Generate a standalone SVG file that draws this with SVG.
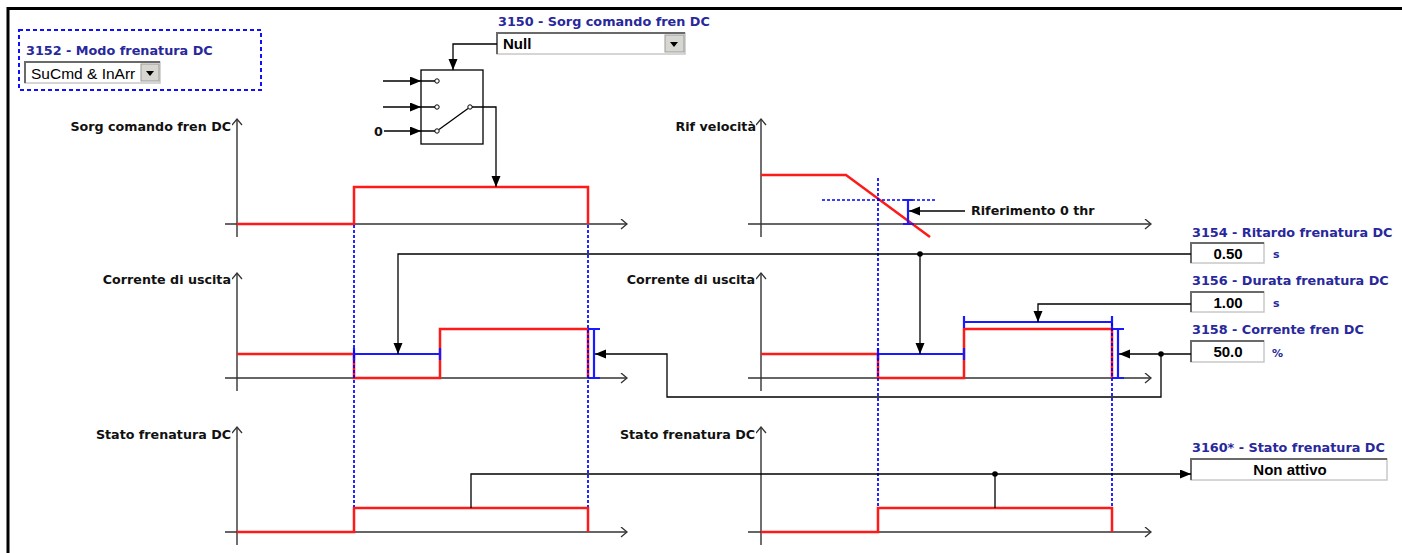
<svg xmlns="http://www.w3.org/2000/svg" width="1402" height="553" viewBox="0 0 1402 553">
<style>
.lbl{font-family:"DejaVu Sans",Verdana,sans-serif;font-weight:bold;font-size:12.7px;fill:#111}
.ttl{font-family:"DejaVu Sans",Verdana,sans-serif;font-weight:bold;font-size:12.8px;fill:#28289c}
.val{font-family:"Liberation Sans",Arial,sans-serif;font-weight:bold;font-size:15px;fill:#000}
.unit{font-family:"DejaVu Sans",Verdana,sans-serif;font-weight:bold;font-size:11px;fill:#28289c}
.ax{stroke:#333;stroke-width:1.4;fill:none}
.axa{stroke:#333;stroke-width:1.4;fill:none;marker-end:url(#chev)}
.red{stroke:#ff1a1a;stroke-width:2.5;fill:none;stroke-linejoin:miter}
.blu{stroke:#1a1aff;stroke-width:2.2;fill:none}
.dash{stroke:#0000ff;stroke-width:1.7;fill:none;stroke-dasharray:3 2}
.con{stroke:#000;stroke-width:1.3;fill:none}
.arr{marker-end:url(#arr)}
.dot{fill:#000}
.pin{fill:#fff;stroke:#000;stroke-width:1}
.box{fill:#fff;stroke:#c8c8c8;stroke-width:1.5}
.bdk{stroke:#6a6a6a;stroke-width:2;fill:none}
.btn{fill:#d8d6d0;stroke:#9a9a9a;stroke-width:1}
</style>
<defs>
<marker id="arr" markerUnits="userSpaceOnUse" markerWidth="12" markerHeight="10" refX="11" refY="4.5" orient="auto">
<path d="M0,0 L11,4.5 L0,9 z" fill="#000"/>
</marker>
<marker id="chev" markerUnits="userSpaceOnUse" markerWidth="10" markerHeight="12" refX="7" refY="5" orient="auto">
<path d="M1,0 L7,5 L1,10" fill="none" stroke="#333" stroke-width="1.3"/>
</marker>
</defs>

<rect x="0" y="0" width="1402" height="553" fill="#fff"/>
<path d="M8,553 V8.5 H1402" fill="none" stroke="#000" stroke-width="3"/>

<!-- 3152 parameter -->
<g id="p3152">
<rect x="19" y="30" width="242" height="60" fill="none" stroke="#1010ff" stroke-width="2" stroke-dasharray="4 3"/>
<text class="ttl" x="26" y="55">3152 - Modo frenatura DC</text>
<rect class="box" x="25" y="62" width="135" height="21"/>
<path class="bdk" d="M25,83 V62 H160"/>
<rect class="btn" x="141" y="64" width="18" height="17"/>
<path d="M146,71 H154 L150,76 z" fill="#000"/>
<text class="val" x="31" y="79" font-weight="normal" style="font-weight:normal;font-size:15.5px">SuCmd &amp; InArr</text>
</g>

<!-- 3150 parameter -->
<g id="p3150">
<text class="ttl" x="498" y="26">3150 - Sorg comando fren DC</text>
<rect class="box" x="497" y="33" width="188" height="21"/>
<path class="bdk" d="M497,54 V33 H685"/>
<rect class="btn" x="665" y="35" width="19" height="17"/>
<path d="M670,42 H678 L674,47 z" fill="#000"/>
<text class="val" x="503" y="49">Null</text>
</g>

<!-- switch -->
<g id="switch">
<rect x="421" y="70" width="62" height="74" fill="#fff" stroke="#000" stroke-width="1.3"/>
<path class="con" d="M421,81 H435 M421,107 H435 M421,131 H435 M472,107 H483"/>
<path class="con" d="M439,129.5 L468,108.5"/>
<circle class="pin" cx="437" cy="81" r="2.2"/>
<circle class="pin" cx="437" cy="107" r="2.2"/>
<circle class="pin" cx="437" cy="131" r="2.2"/>
<circle class="pin" cx="470" cy="107" r="2.2"/>
<text class="lbl" x="374" y="136">0</text>
</g>

<!-- graph 1 -->
<g id="g1">
<text class="lbl" x="231" y="131" text-anchor="end">Sorg comando fren DC</text>
<path class="axa" d="M237,237 V119"/>
<path class="axa" d="M225,224 H627"/>
<path class="red" d="M237,224 H354 V187 H588 V224"/>
</g>

<!-- graph 2 -->
<g id="g2">
<text class="lbl" x="756" y="131" text-anchor="end">Rif velocità</text>
<path class="axa" d="M761,237 V119"/>
<path class="axa" d="M748,224 H1151"/>
<path class="red" d="M761,175 H846 L930,237"/>
<path class="dash" d="M822,200 H937"/>
<path class="blu" d="M908,200 V224 M903,200 H913 M903,224 H914"/>
<text class="lbl" x="971" y="215">Riferimento 0 thr</text>
</g>

<!-- graph 3 -->
<g id="g3">
<text class="lbl" x="231" y="284" text-anchor="end">Corrente di uscita</text>
<path class="axa" d="M237,391 V273"/>
<path class="axa" d="M225,378 H627"/>
<path class="red" d="M237,354 H354 V378 H440 V329 H588 V378"/>
<path class="blu" d="M354,354 H440 M354,348 V360 M440,348 V360"/>
<path class="blu" d="M594,329 V378 M588,329 H600 M588,378 H600"/>
</g>

<!-- graph 4 -->
<g id="g4">
<text class="lbl" x="755" y="284" text-anchor="end">Corrente di uscita</text>
<path class="axa" d="M761,391 V273"/>
<path class="axa" d="M748,378 H1151"/>
<path class="red" d="M761,354 H878 V378 H964 V329 H1112 V378"/>
<path class="blu" d="M878,354 H964 M878,348 V360 M964,348 V360"/>
<path class="blu" d="M964,322 H1112 M964,316 V328 M1112,316 V328"/>
<path class="blu" d="M1118,329 V378 M1112,329 H1124 M1112,378 H1124"/>
</g>

<!-- graph 5 -->
<g id="g5">
<text class="lbl" x="231" y="439" text-anchor="end">Stato frenatura DC</text>
<path class="axa" d="M237,545 V427"/>
<path class="axa" d="M225,532 H627"/>
<path class="red" d="M237,532 H354 V508 H588 V532"/>
</g>

<!-- graph 6 -->
<g id="g6">
<text class="lbl" x="755" y="439" text-anchor="end">Stato frenatura DC</text>
<path class="axa" d="M761,545 V427"/>
<path class="axa" d="M748,532 H1151"/>
<path class="red" d="M761,532 H878 V508 H1112 V532"/>
</g>

<!-- time markers -->
<g id="markers">
<path class="dash" d="M354,225 V507 M588,225 V507 M878,178 V507 M1112,323 V507"/>
</g>

<!-- right parameters -->
<g id="p3154">
<text class="ttl" x="1192" y="237">3154 - Ritardo frenatura DC</text>
<rect class="box" x="1191" y="243" width="73" height="20"/>
<path class="bdk" d="M1191,263 V243 H1264"/>
<text class="val" x="1228" y="259" text-anchor="middle">0.50</text>
<text class="unit" x="1273" y="258">s</text>
</g>
<g id="p3156">
<text class="ttl" x="1192" y="285">3156 - Durata frenatura DC</text>
<rect class="box" x="1191" y="292" width="73" height="20"/>
<path class="bdk" d="M1191,312 V292 H1264"/>
<text class="val" x="1228" y="308" text-anchor="middle">1.00</text>
<text class="unit" x="1273" y="307">s</text>
</g>
<g id="p3158">
<text class="ttl" x="1192" y="334">3158 - Corrente fren DC</text>
<rect class="box" x="1191" y="341" width="73" height="21"/>
<path class="bdk" d="M1191,362 V341 H1264"/>
<text class="val" x="1228" y="357" text-anchor="middle">50.0</text>
<text class="unit" x="1272" y="357">%</text>
</g>
<g id="p3160">
<text class="ttl" x="1192" y="452">3160* - Stato frenatura DC</text>
<rect class="box" x="1191" y="459" width="196" height="21"/>
<path class="bdk" d="M1191,480 V459 H1387"/>
<text class="val" x="1290" y="475" text-anchor="middle">Non attivo</text>
</g>

<!-- connectors -->
<g id="connectors">
<path class="con arr" d="M497,44 H453 V70"/>
<path class="con arr" d="M383,81 H421"/>
<path class="con arr" d="M383,107 H421"/>
<path class="con arr" d="M384,131 H421"/>
<path class="con arr" d="M483,107 H496 V187"/>
<path class="con arr" d="M965,211 H909"/>
<path class="con arr" d="M1191,254 H398 V354"/>
<path class="con arr" d="M920,254 V354"/>
<circle class="dot" cx="920" cy="254" r="2.8"/>
<path class="con arr" d="M1191,304 H1038 V322"/>
<path class="con arr" d="M1191,354 H1119"/>
<path class="con arr" d="M1161,354 V397 H667 V354 H595"/>
<circle class="dot" cx="1161" cy="354" r="2.8"/>
<path class="con arr" d="M471,508 V474 H1191"/>
<path class="con" d="M995,474 V508"/>
<circle class="dot" cx="995" cy="474" r="2.8"/>
</g>
</svg>
